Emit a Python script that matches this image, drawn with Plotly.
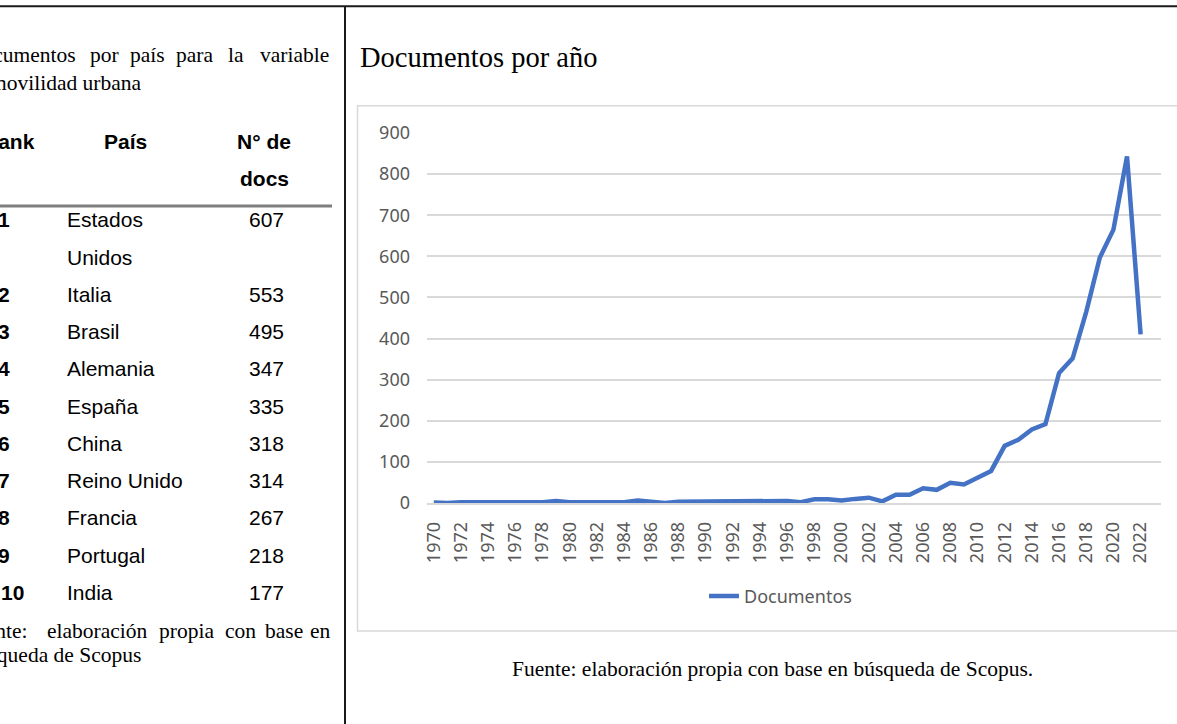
import plotly.graph_objects as go

# ---------------- data ----------------
years = [1970, 1971, 1972, 1973, 1974, 1975, 1976, 1977, 1978, 1979,
         1980, 1981, 1982, 1983, 1984, 1985, 1986, 1987, 1988, 1989,
         1990, 1991, 1992, 1993, 1994, 1995, 1996, 1997, 1998, 1999,
         2000, 2001, 2002, 2003, 2004, 2005, 2006, 2007, 2008, 2009,
         2010, 2011, 2012, 2013, 2014, 2015, 2016, 2017, 2018, 2019,
         2020, 2021, 2022, 2023]
documentos = [1, 0, 2, 2, 2, 2, 2, 1, 2, 5,
              2, 2, 2, 2, 2, 6, 4, 0, 3, 3,
              3, 3, 5, 5, 5, 5, 5, 2, 9, 9,
              6, 10, 13, 4, 20, 20, 36, 32, 49, 45,
              62, 78, 139, 154, 179, 192, 316, 352, 465, 597,
              665, 843, 410, None]

ranks = [1, 2, 3, 4, 5, 6, 7, 8, 9, 10]
paises = ["Estados Unidos", "Italia", "Brasil", "Alemania", "España",
          "China", "Reino Unido", "Francia", "Portugal", "India"]
n_docs = [607, 553, 495, 347, 335, 318, 314, 267, 218, 177]

tabla_titulo_l1 = ["Documentos", "por", "país", "para", "la", "variable"]
tabla_titulo_l2 = "movilidad urbana"
tabla_fuente_l1 = ["Fuente:", "elaboración", "propia", "con", "base", "en"]
tabla_fuente_l2 = "búsqueda de Scopus"
chart_title = "Documentos por año"
chart_fuente = "Fuente: elaboración propia con base en búsqueda de Scopus."

# ---------------- layout geometry (pixels) ----------------
W, H = 1177, 724
L, R, T, B = 427, 1161, 133, 503.5


def px(x):
    return (x - L) / (R - L)


def py(y):
    return (B - y) / (B - T)


SERIF = "Liberation Serif"
SANS = "Liberation Sans"
CHART_FONT = "Noto Sans"
GREY_TXT = "#595959"
GRID = "#d9d9d9"

fig = go.Figure()
fig.add_trace(go.Scatter(
    x=years, y=documentos, mode="lines", name="Documentos",
    line=dict(color="#4472C4", width=4.5, shape="linear"),
    connectgaps=False,
))

annotations = []


def ann(text, x, y, xanchor="left", size=21, family=SANS, color="#000000"):
    annotations.append(dict(
        text=text, x=px(x), y=py(y), xref="paper", yref="paper",
        xanchor=xanchor, yanchor="middle", showarrow=False,
        font=dict(family=family, size=size, color=color),
    ))


# left paragraph (justified) - word positions
t1_x = [78, 88, 128, 174, 226, 331]
for i, w in enumerate(tabla_titulo_l1):
    anchor = "right" if i in (0, len(tabla_titulo_l1) - 1) else "left"
    ann(w, t1_x[i], 55, anchor, 21.5, SERIF)
ann(tabla_titulo_l2, -12, 83, "left", 21.5, SERIF)

# table header
ann("<b>Rank</b>", 37, 142, "right", 21)
ann("<b>País</b>", 125, 142, "center", 21)
ann("<b>N° de</b>", 264, 142, "center", 21)
ann("<b>docs</b>", 264, 179, "center", 21)

# table rows
y0, step = 220, 37.3
line = 0
for r, p, n in zip(ranks, paises, n_docs):
    parts = p.split(" ") if len(p) > 12 else [p]
    yy = y0 + step * line
    ann(f"<b>{r}</b>", -4.5 if r < 10 else -1, yy, "left", 21)
    ann(str(n), 247, yy, "left", 21)
    for k, part in enumerate(parts):
        ann(part, 65, y0 + step * (line + k), "left", 21)
    line += len(parts)

# left source (justified)
f1_x = [30, 45, 157, 223, 263, 333]
for i, w in enumerate(tabla_fuente_l1):
    anchor = "right" if i in (0, len(tabla_fuente_l1) - 1) else "left"
    ann(w, f1_x[i], 632, anchor, 21.5, SERIF)
ann(tabla_fuente_l2, -35, 656, "left", 21.5, SERIF)

# chart title & source
ann(chart_title, 358, 57, "left", 28.5, SERIF)
ann(chart_fuente, 772, 670, "center", 21.5, SERIF)

shapes = [
    # page rules
    dict(type="line", xref="paper", yref="paper", x0=px(0), x1=px(W), y0=py(6), y1=py(6),
         line=dict(color="#1a1a1a", width=2)),
    dict(type="line", xref="paper", yref="paper", x0=px(345), x1=px(345), y0=py(6), y1=py(H + 2),
         line=dict(color="#1a1a1a", width=2)),
    # table header rule
    dict(type="line", xref="paper", yref="paper", x0=px(-2), x1=px(332), y0=py(206), y1=py(206),
         line=dict(color="#7f7f7f", width=3)),
    # chart frame
    dict(type="rect", xref="paper", yref="paper", x0=px(357.5), x1=px(1190), y0=py(105.7), y1=py(631.7),
         line=dict(color=GRID, width=1.5), fillcolor="rgba(0,0,0,0)", layer="below"),
]

fig.update_layout(
    width=W, height=H,
    margin=dict(l=L, r=W - R, t=T, b=H - B, pad=0),
    paper_bgcolor="white", plot_bgcolor="white",
    showlegend=True,
    legend=dict(orientation="h", x=px(704), xanchor="left", y=py(597), yanchor="middle",
                font=dict(family=CHART_FONT, size=18, color=GREY_TXT),
                bgcolor="rgba(0,0,0,0)"),
    annotations=annotations,
    shapes=shapes,
    xaxis=dict(range=[1969.5, 2023.5], tickmode="array", tickvals=years[::2],
               ticktext=[str(y) for y in years[::2]], tickangle=-90,
               showgrid=False, zeroline=False, showline=True, linecolor=GRID, linewidth=1.5,
               ticks="", ticklabelstandoff=10,
               tickfont=dict(family=CHART_FONT, size=18, color=GREY_TXT)),
    yaxis=dict(range=[0, 900], dtick=100, tick0=0, showgrid=True, gridcolor=GRID, gridwidth=1.5,
               zeroline=False, showline=False, ticks="", ticklabelstandoff=16,
               tickfont=dict(family=CHART_FONT, size=18, color=GREY_TXT)),
)

fig.write_html("out.html", config={"displayModeBar": False},
               post_script="document.body.style.margin='0';document.body.style.overflow='hidden';")
